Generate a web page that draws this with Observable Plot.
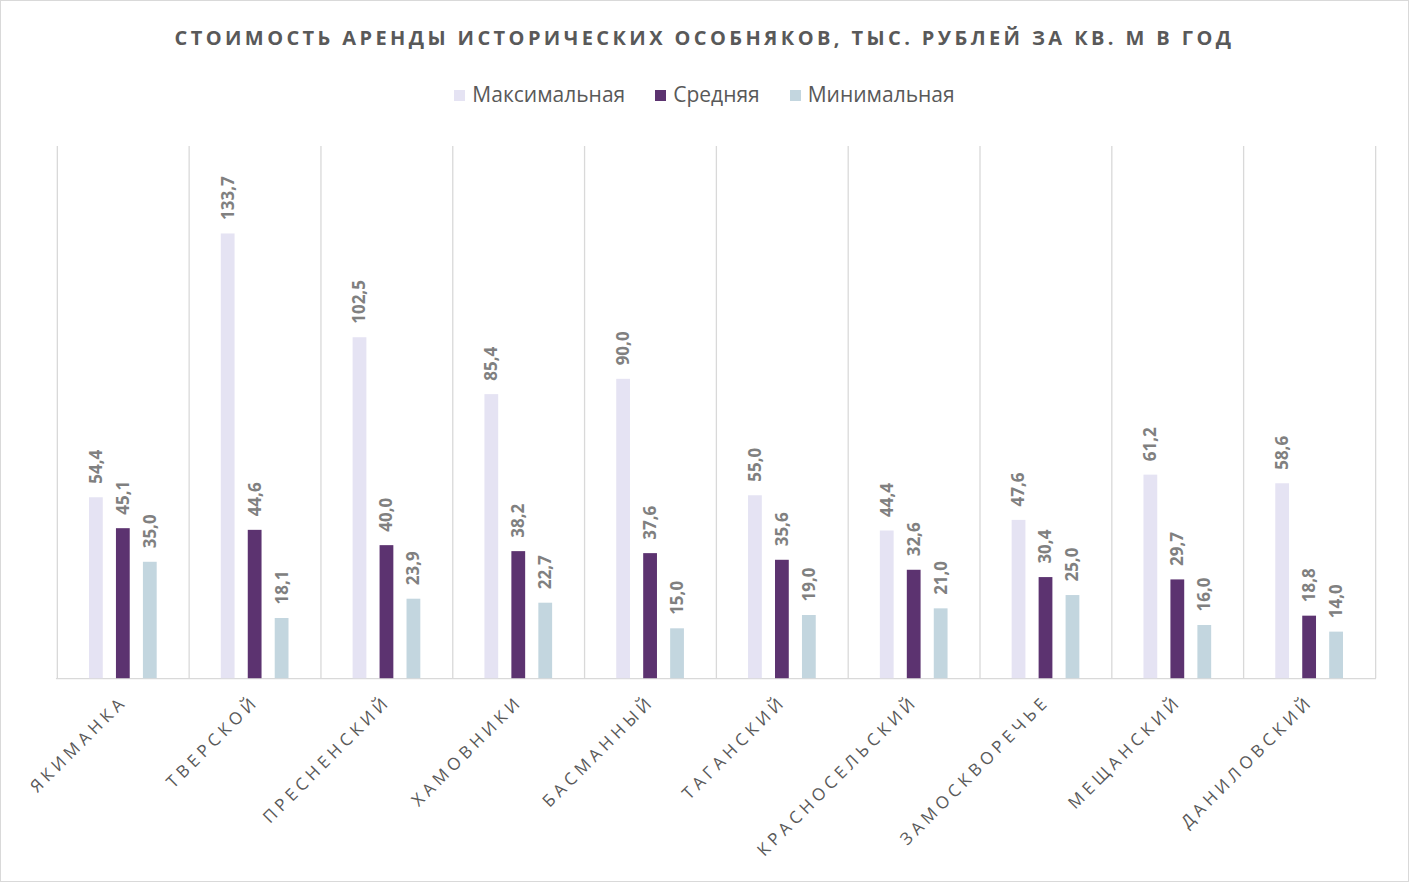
<!DOCTYPE html>
<html>
<head>
<meta charset="utf-8">
<script src="https://cdn.jsdelivr.net/npm/d3@7"></script>
<script src="https://cdn.jsdelivr.net/npm/@observablehq/plot@0.6"></script>
<style>
  html, body { margin: 0; padding: 0; background: #fff; }
  #chart { position: relative; width: 1409px; height: 882px; box-sizing: border-box; border: 1px solid #d9d9d9; font-family: "Open Sans", "Noto Sans", sans-serif; overflow: hidden; }
  #title { position: absolute; left: 0; right: 0; top: 23px; text-align: center; font-size: 20px; font-weight: 700; color: #595959; letter-spacing: 3.4px; }
  #legend { position: absolute; left: 0; right: 0; top: 79px; text-align: center; font-size: 21px; color: #595959; }
  #legend span.item { display: inline-block; margin: 0 15px; }
  #legend span.sw { display: inline-block; width: 11px; height: 11px; margin-right: 7px; vertical-align: 1px; }
  #plot { position: absolute; left: 0; top: 125px; }
  .xaxis text { letter-spacing: 4.4px; }
</style>
</head>
<body>
<div id="chart">
  <div id="title">СТОИМОСТЬ АРЕНДЫ ИСТОРИЧЕСКИХ ОСОБНЯКОВ, ТЫС. РУБЛЕЙ ЗА КВ. М В ГОД</div>
  <div id="legend"></div>
  <div id="plot"></div>
</div>
<script>
const categories = ["Якиманка", "Тверской", "Пресненский", "Хамовники", "Басманный", "Таганский", "Красносельский", "Замоскворечье", "Мещанский", "Даниловский"];
const seriesNames = ["Максимальная", "Средняя", "Минимальная"];
const seriesColors = ["#e5e3f3", "#5c3370", "#c3d6df"];
const maxValues = [54.4, 133.7, 102.5, 85.4, 90.0, 55.0, 44.4, 47.6, 61.2, 58.6];
const avgValues = [45.1, 44.6, 40.0, 38.2, 37.6, 35.6, 32.6, 30.4, 29.7, 18.8];
const minValues = [35.0, 18.1, 23.9, 22.7, 15.0, 19.0, 21.0, 25.0, 16.0, 14.0];

const seriesValues = [maxValues, avgValues, minValues];
const rows = [];
seriesNames.forEach((s, i) => categories.forEach((c, j) => rows.push({cat: c, series: s, idx: i, value: seriesValues[i][j]})));

const fmt = v => v.toFixed(1).replace(".", ",");

// legend
const legend = document.getElementById("legend");
seriesNames.forEach((s, i) => {
  const it = document.createElement("span");
  it.className = "item";
  it.innerHTML = `<span class="sw" style="background:${seriesColors[i]}"></span>${s}`;
  legend.appendChild(it);
});

const W = 1409, H = 750, mL = 55, mR = 32, mT = 20, mB = 197;
const step = (W - mL - mR) / categories.length;
const barW = 14, gap = 27;
const inset = (step - barW) / 2;
const offsets = [-gap, 0, gap];

const marks = [
  Plot.ruleX(categories, {x: d => d, dx: -step / 2, stroke: "#d9d9d9", strokeWidth: 1.3}),
  Plot.ruleX([categories[categories.length - 1]], {x: d => d, dx: step / 2, stroke: "#d9d9d9", strokeWidth: 1.3}),
  Plot.ruleY([0], {stroke: "#d9d9d9", strokeWidth: 1.3})
];
seriesNames.forEach((s, i) => {
  const d = rows.filter(r => r.idx === i);
  marks.push(Plot.barY(d, {x: "cat", y: "value", fill: seriesColors[i], insetLeft: inset, insetRight: inset, dx: offsets[i]}));
  marks.push(Plot.text(d, {x: "cat", y: "value", text: r => fmt(r.value), rotate: -90, textAnchor: "start", lineAnchor: "middle", dx: offsets[i], dy: -14, fill: "#808080", fontWeight: "bold", fontSize: 17}));
});
marks.push(Plot.axisX({tickRotate: -45, tickSize: 0, tickPadding: 20, dx: 1, fontSize: 17, fill: "#595959", tickFormat: d => d.toUpperCase(), className: "xaxis"}));

const chart = Plot.plot({
  width: W, height: H,
  marginLeft: mL, marginRight: mR, marginTop: mT, marginBottom: mB,
  x: {domain: categories, padding: 0, label: null},
  y: {domain: [0, 160], axis: null},
  style: {fontFamily: "'Open Sans', 'Noto Sans', sans-serif", background: "transparent"},
  marks
});
document.getElementById("plot").appendChild(chart);
</script>
</body>
</html>
